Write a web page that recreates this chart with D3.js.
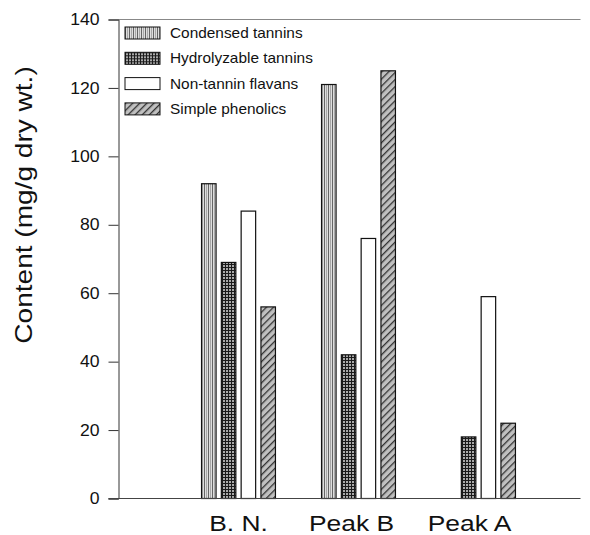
<!DOCTYPE html>
<html>
<head>
<meta charset="utf-8">
<script src="https://cdn.jsdelivr.net/npm/d3@7"></script>
<style>
  body { margin: 0; background: #fff; }
  svg { font-family: "Liberation Sans", Arial, sans-serif; }
</style>
</head>
<body>
<svg id="chart" width="590" height="535"></svg>
<script>
const groups = ['B. N.', 'Peak B', 'Peak A'];
const seriesNames = ['Condensed tannins', 'Hydrolyzable tannins', 'Non-tannin flavans', 'Simple phenolics'];
const condensed = [92, 121, 0];
const hydrolyzable = [69, 42, 18];
const nonTannin = [84, 76, 59];
const simple = [56, 125, 22];
const yTicks = [0, 20, 40, 60, 80, 100, 120, 140];

const series = [condensed, hydrolyzable, nonTannin, simple];
const fills = ['url(#pCond)', 'url(#pHydro)', '#fff', 'url(#pSimple)'];

const margin = {left: 118.5, right: 10, top: 19, bottom: 36};
// labels in the original sit a little left of their group centres
const labelShift = [0, -7, -9];

const svg = d3.select('#chart');

// patterns
const defs = svg.append('defs');

const pCond = defs.append('pattern')
    .attr('id', 'pCond').attr('patternUnits', 'userSpaceOnUse')
    .attr('width', 4).attr('height', 4);
pCond.append('rect').attr('width', 4).attr('height', 4).attr('fill', '#dedede');
pCond.append('rect').attr('x', 0).attr('width', 1).attr('height', 4).attr('fill', '#666');
pCond.append('rect').attr('x', 2).attr('width', 1).attr('height', 4).attr('fill', '#a8a8a8');

const pHydro = defs.append('pattern')
    .attr('id', 'pHydro').attr('patternUnits', 'userSpaceOnUse')
    .attr('width', 3).attr('height', 3);
pHydro.append('rect').attr('width', 3).attr('height', 3).attr('fill', '#aaa');
pHydro.append('rect').attr('width', 1).attr('height', 3).attr('fill', '#1a1a1a');
pHydro.append('rect').attr('width', 3).attr('height', 1).attr('fill', '#1a1a1a');

const pSimple = defs.append('pattern')
    .attr('id', 'pSimple').attr('patternUnits', 'userSpaceOnUse')
    .attr('width', 5).attr('height', 5)
    .attr('patternTransform', 'rotate(45)');
pSimple.append('rect').attr('width', 5).attr('height', 5).attr('fill', '#c0c0c0');
pSimple.append('rect').attr('width', 1.3).attr('height', 5).attr('fill', '#333');

const y = d3.scaleLinear()
    .domain([0, 140])
    .range([498.5, 19.5]);

// x positions: groups at 1,2,3
const x = d3.scaleLinear()
    .domain([0, 3.85])
    .range([margin.left, margin.left + 3.85 * 120]);

const barW = 14.5, barStep = 19.8;

// top frame line
svg.append('line')
    .attr('x1', x(0)).attr('x2', x(3.85))
    .attr('y1', y(140)).attr('y2', y(140))
    .style('stroke', '#888').style('stroke-width', 1);

// bars
series.forEach((vals, s) => {
    svg.selectAll(`.bar${s}`)
        .data(vals.map((v, i) => ({v, i})).filter(d => d.v > 0))
        .join('rect')
            .attr('class', `bar${s}`)
            .attr('x', d => x(d.i + 1) - 2 * barStep + s * barStep + (barStep - barW) / 2)
            .attr('y', d => y(d.v))
            .attr('width', barW)
            .attr('height', d => y(0) - y(d.v))
            .style('fill', fills[s])
            .style('stroke', '#111')
            .style('stroke-width', 1.2);
});

// y axis
const yAxis = svg.append('g')
    .attr('transform', `translate(${margin.left},0)`)
    .call(d3.axisLeft(y).tickValues(yTicks).tickSize(10).tickPadding(8));
yAxis.select('.domain').style('stroke', '#333');
yAxis.selectAll('.tick line').style('stroke', '#333');
yAxis.selectAll('text')
    .attr('x', 0)
    .attr('transform', 'translate(-19,0) scale(1.1,1)')
    .style('font-size', '16px').style('fill', '#111');

// x baseline
svg.append('line')
    .attr('x1', x(0) - 10).attr('x2', x(3.85))
    .attr('y1', y(0)).attr('y2', y(0))
    .style('stroke', '#444').style('stroke-width', 1.2);

// group labels
svg.selectAll('.grpLabel')
    .data(groups)
    .join('text')
        .attr('class', 'grpLabel')
        .attr('transform', (d, i) => `translate(${x(i + 1) + labelShift[i]},531) scale(1.2,1)`)
        .attr('text-anchor', 'middle')
        .style('font-size', '22px')
        .style('fill', '#111')
        .text(d => d);

// y label
svg.append('text')
    .attr('transform', 'translate(32,205) rotate(-90) scale(1.22,1)')
    .attr('text-anchor', 'middle')
    .style('font-size', '23px')
    .style('fill', '#111')
    .text('Content (mg/g dry wt.)');

// legend
const legend = svg.append('g').attr('transform', 'translate(125,27)');
seriesNames.forEach((name, i) => {
    const row = legend.append('g').attr('transform', `translate(0,${i * 25.3})`);
    row.append('rect')
        .attr('width', 35).attr('height', 12)
        .style('fill', fills[i])
        .style('stroke', '#111').style('stroke-width', 1);
    row.append('text')
        .attr('transform', 'translate(45,11) scale(1.1,1)')
        .style('font-size', '14px')
        .style('fill', '#111')
        .text(name);
});
</script>
</body>
</html>
